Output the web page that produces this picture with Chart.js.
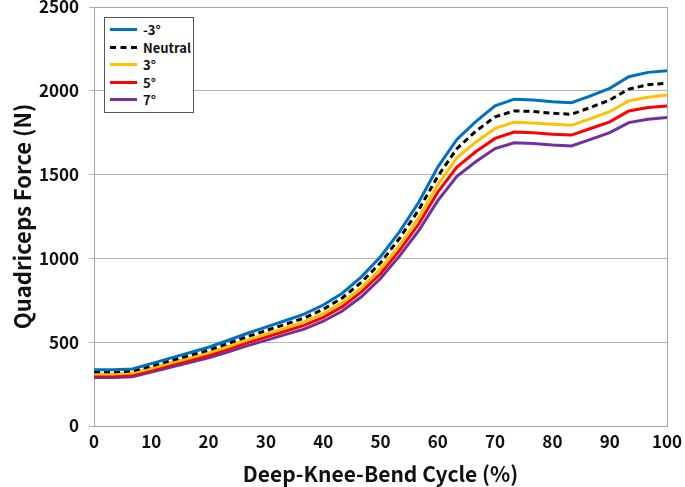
<!DOCTYPE html>
<html>
<head>
<meta charset="utf-8">
<script src="https://cdn.jsdelivr.net/npm/chart.js@4.4.1/dist/chart.umd.min.js"></script>
<style>
  html, body { margin: 0; padding: 0; background: #fff; }
  #wrap { position: relative; width: 685px; height: 487px; }
  #legend { position: absolute; left: 104px; top: 17px; width: 88px; background: #fff; border: 1px solid #555; padding: 3px 0 3px 0; font-family: "Noto Sans CJK KR", "Open Sans", sans-serif; font-weight: bold; font-size: 13px; color: #111; }
  .row { display: flex; align-items: center; height: 17.5px; }
  .sw { width: 27px; margin-left: 5px; margin-right: 6px; height: 0; border-top-width: 3px; }
</style>
</head>
<body>
<div id="wrap">
  <canvas id="c" width="685" height="487"></canvas>
  <div id="legend"></div>
</div>
<script>
const cycle = [0, 3.33, 6.67, 10, 13.33, 16.67, 20, 23.33, 26.67, 30, 33.33, 36.67, 40, 43.33, 46.67, 50, 53.33, 56.67, 60, 63.33, 66.67, 70, 73.33, 76.67, 80, 83.33, 86.67, 90, 93.33, 96.67, 100];
const minus3 = [335, 335, 340, 372, 405, 437, 470, 510, 552, 590, 628, 668, 722, 792, 890, 1010, 1160, 1335, 1545, 1710, 1818, 1910, 1950, 1945, 1935, 1929, 1970, 2015, 2084, 2110, 2120];
const neutral = [323, 323, 328, 358, 390, 421, 453, 492, 532, 569, 606, 644, 696, 764, 858, 974, 1120, 1290, 1490, 1655, 1760, 1845, 1880, 1877, 1866, 1860, 1901, 1945, 2010, 2036, 2045];
const plus3 = [311, 311, 316, 345, 376, 405, 436, 473, 512, 548, 584, 621, 671, 736, 826, 938, 1078, 1242, 1440, 1600, 1695, 1776, 1813, 1808, 1800, 1794, 1834, 1875, 1940, 1962, 1975];
const plus5 = [301, 301, 305, 334, 363, 392, 422, 458, 496, 530, 565, 600, 648, 712, 800, 908, 1048, 1205, 1395, 1545, 1638, 1716, 1754, 1750, 1741, 1736, 1775, 1815, 1880, 1900, 1909];
const plus7 = [290, 290, 294, 322, 350, 378, 407, 441, 478, 511, 545, 578, 625, 686, 771, 880, 1015, 1165, 1345, 1490, 1578, 1655, 1690, 1686, 1677, 1671, 1710, 1750, 1810, 1830, 1840];
const seriesNames = ["-3°", "Neutral", "3°", "5°", "7°"];
const xTicks = [0, 10, 20, 30, 40, 50, 60, 70, 80, 90, 100];
const yTicks = [0, 500, 1000, 1500, 2000, 2500];

const colors = ["#0070C0", "#000000", "#FFC000", "#FF0000", "#7030A0"];
const dashes = [[], [6, 4], [], [], []];
const allData = [minus3, neutral, plus3, plus5, plus7];

const datasets = allData.map((vals, i) => ({
  label: seriesNames[i],
  data: vals.map((v, j) => ({ x: cycle[j], y: v })),
  borderColor: colors[i],
  backgroundColor: colors[i],
  borderWidth: 3,
  borderDash: dashes[i],
  pointRadius: 0,
  tension: 0,
  fill: false
}));

const frame = {
  id: 'frame',
  beforeDatasetsDraw(chart) {
    const a = chart.chartArea, ctx = chart.ctx;
    ctx.save();
    ctx.strokeStyle = '#a6a6a6';
    ctx.lineWidth = 1;
    ctx.strokeRect(Math.round(a.left) + 0.5, Math.round(a.top) + 0.5, Math.round(a.right - a.left), Math.round(a.bottom - a.top));
    ctx.restore();
  }
};

const font = "'Noto Sans CJK KR', 'Open Sans', sans-serif";
new Chart(document.getElementById('c'), {
  type: 'line',
  data: { datasets },
  plugins: [frame],
  options: {
    responsive: false,
    animation: false,
    layout: { padding: { left: 9, right: 18, top: 7, bottom: 0 } },
    plugins: { legend: { display: false }, tooltip: { enabled: false } },
    scales: {
      x: {
        type: 'linear', min: 0, max: 100,
        afterBuildTicks: s => { s.ticks = xTicks.map(v => ({ value: v })); },
        afterFit: s => { s.height = 61; s.paddingLeft = 0; s.paddingRight = 0; },
        grid: { display: false, drawTicks: true, tickLength: 4 },
        border: { color: '#a6a6a6' },
        ticks: { color: '#111', font: { family: font, size: 17, weight: 'bold' }, padding: 1, maxRotation: 0, callback: v => String(v) },
        title: { display: true, text: 'Deep-Knee-Bend Cycle (%)', color: '#111', font: { family: font, size: 21, weight: 'bold' }, padding: { top: 2, bottom: 0 } }
      },
      y: {
        min: 0, max: 2500,
        afterBuildTicks: s => { s.ticks = yTicks.map(v => ({ value: v })); },
        afterFit: s => { s.width = 85; s.paddingTop = 0; s.paddingBottom = 0; },
        grid: { color: '#b4b4b4', lineWidth: 1, tickLength: 5, drawTicks: true },
        border: { color: '#a6a6a6' },
        ticks: { color: '#111', font: { family: font, size: 17, weight: 'bold' }, padding: 10, callback: v => String(v) },
        title: { display: true, text: 'Quadriceps Force (N)', color: '#111', font: { family: font, size: 22, weight: 'bold' }, padding: { top: 0, bottom: 4 } }
      }
    }
  }
});

const lg = document.getElementById('legend');
seriesNames.forEach((n, i) => {
  const r = document.createElement('div'); r.className = 'row';
  const sw = document.createElement('div'); sw.className = 'sw';
  sw.style.borderTopStyle = dashes[i].length ? 'dashed' : 'solid';
  sw.style.borderTopColor = colors[i];
  const t = document.createElement('span'); t.textContent = n;
  r.appendChild(sw); r.appendChild(t); lg.appendChild(r);
});
</script>
</body>
</html>
